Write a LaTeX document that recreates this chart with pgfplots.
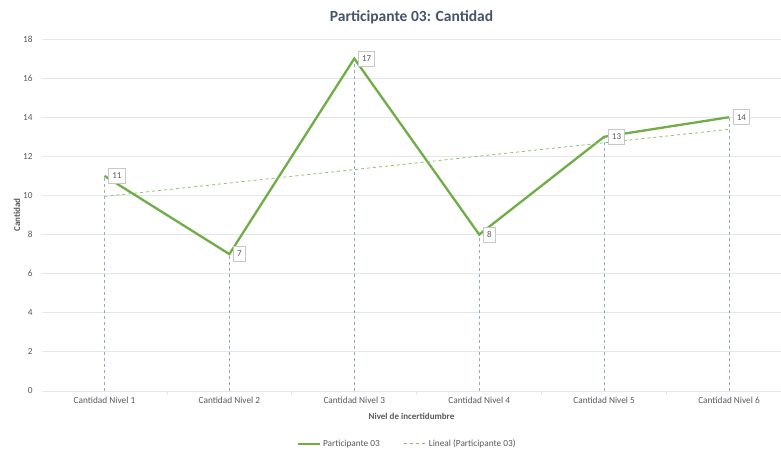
\documentclass[border=0pt]{standalone}
\usepackage{pgfplots}
\pgfplotsset{compat=1.18}
\usepackage{fontspec}
\setmainfont{Carlito}
\definecolor{pgreen}{HTML}{70AD47}
\definecolor{tgreen}{HTML}{8CC168}
\definecolor{dropc}{HTML}{98A8C8}
\definecolor{gridc}{HTML}{E3E6EB}
\definecolor{txt}{HTML}{595959}
\definecolor{titlec}{HTML}{44546A}
\begin{document}
\begin{tikzpicture}
\path[use as bounding box] (0,0) rectangle (781pt,454pt);
\begin{axis}[
  at={(42pt,63pt)}, anchor=south west,
  scale only axis, width=739pt, height=352pt,
  xmin=-0.5, xmax=5.416, ymin=0, ymax=18,
  ytick={0,2,...,18},
  xtick={0,1,2,3,4,5},
  xticklabels={Cantidad Nivel 1,Cantidad Nivel 2,Cantidad Nivel 3,Cantidad Nivel 4,Cantidad Nivel 5,Cantidad Nivel 6},
  minor xtick={0.5,1.5,2.5,3.5,4.5},
  major tick length=0pt,
  minor tick length=4pt,
  tick align=outside,
  every minor tick/.style={draw=gridc, line width=0.8pt},
  ymajorgrids, major grid style={draw=gridc, line width=0.8pt},
  axis x line*=bottom, axis y line*=left,
  x axis line style={draw=gridc, line width=0.8pt, -},
  y axis line style={draw=none},
  ytick style={draw=none},
  tick label style={font=\fontsize{9.3}{11}\selectfont, color=txt},
  yticklabel style={xshift=-6pt},
  xticklabel style={yshift=-3pt},
  /pgf/number format/assume math mode=true,
  xlabel={\textbf{Nivel de incertidumbre}},
  ylabel={\textbf{Cantidad}},
  label style={font=\fontsize{9}{11}\selectfont, color=txt},
  xlabel style={yshift=-2pt},
  ylabel style={yshift=-4pt},
  title={\textbf{Participante 03: Cantidad}},
  title style={font=\fontsize{15.5}{18}\selectfont, color=titlec, yshift=6pt},
  legend style={at={(0.494,-0.15)}, anchor=center, draw=none, legend columns=2,
    font=\fontsize{9.3}{11}\selectfont, text=txt,
    /tikz/every even column/.append style={column sep=22pt}},
  legend cell align=left,
  legend image post style={xscale=1.3},
  clip=false,
]
\addplot[ycomb, draw=dropc, dashed, line width=0.7pt, forget plot, mark=none]
  coordinates {(0,11) (1,7) (2,17) (3,8) (4,13) (5,14)};
\addplot[draw=pgreen, line width=2.3pt, mark=none,
  nodes near coords,
  every node near coord/.style={anchor=west, xshift=4pt, draw=black!22, fill=white,
    line width=0.7pt, inner xsep=3.5pt, inner ysep=3pt, minimum height=15pt,
    font=\fontsize{9}{11}\selectfont, text=txt}]
  coordinates {(0,11) (1,7) (2,17) (3,8) (4,13) (5,14)};
\addlegendentry{Participante 03}
\addplot[draw=tgreen, dashed, line width=0.8pt, mark=none]
  coordinates {(0,9.95) (5,13.38)};
\addlegendentry{Lineal (Participante 03)}
\end{axis}
\end{tikzpicture}
\end{document}
